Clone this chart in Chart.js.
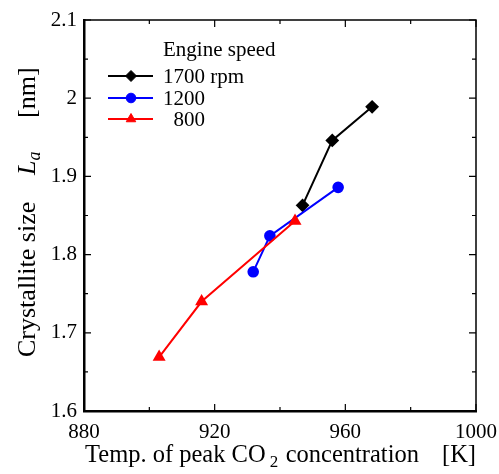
<!DOCTYPE html>
<html>
<head>
<meta charset="utf-8">
<script src="https://cdn.jsdelivr.net/npm/chart.js@4.4.0/dist/chart.umd.min.js"></script>
<style>
  body { margin: 0; background: #fff; }
</style>
</head>
<body>
<canvas id="chart" width="499" height="474"></canvas>
<script>
// data
const seriesNames = ['1700 rpm', '1200', '  800'];
const temp1700 = [946.9, 956.0, 968.2];
const size1700 = [1.863, 1.946, 1.989];
const temp1200 = [931.8, 936.9, 957.8];
const size1200 = [1.778, 1.824, 1.886];
const temp800 = [903.0, 916.0, 944.6];
const size800 = [1.669, 1.740, 1.843];

const FONT = '"Liberation Serif", "Times New Roman", serif';

function toPoints(xs, ys) {
    return xs.map((x, i) => ({ x: x, y: ys[i] }));
}

// ticks inside the box, frame, axis titles and legend
const decorations = {
    id: 'decorations',
    afterDraw(chart) {
        const ctx = chart.ctx;
        const a = chart.chartArea;
        const xs = chart.scales.x;
        const ys = chart.scales.y;
        ctx.save();
        ctx.strokeStyle = '#000';

        // top and right frame lines
        ctx.lineWidth = 1.5;
        ctx.beginPath();
        ctx.moveTo(a.left, a.top);
        ctx.lineTo(a.right, a.top);
        ctx.lineTo(a.right, a.bottom);
        ctx.stroke();

        // x ticks (bottom and top)
        ctx.lineWidth = 1.2;
        xs.ticks.forEach(t => {
            const px = xs.getPixelForValue(t.value);
            const major = Math.round(t.value) % 40 === 0;
            const len = major ? 7 : 4;
            ctx.beginPath();
            ctx.moveTo(px, a.bottom);
            ctx.lineTo(px, a.bottom - len);
            ctx.moveTo(px, a.top);
            ctx.lineTo(px, a.top + len);
            ctx.stroke();
        });
        // y ticks (left and right)
        ys.ticks.forEach(t => {
            const py = ys.getPixelForValue(t.value);
            const major = Math.round(t.value * 100) % 10 === 0;
            const len = major ? 7 : 4;
            ctx.beginPath();
            ctx.moveTo(a.left, py);
            ctx.lineTo(a.left + len, py);
            ctx.moveTo(a.right, py);
            ctx.lineTo(a.right - len, py);
            ctx.stroke();
        });

        ctx.fillStyle = '#000';
        ctx.textBaseline = 'alphabetic';
        ctx.textAlign = 'left';

        // x axis title with subscript
        const big = '24.5px ' + FONT;
        const sub = '17px ' + FONT;
        const base = 462;
        ctx.font = big;
        ctx.fillText('Temp. of peak CO', 85, base);
        const wt = ctx.measureText('Temp. of peak CO').width;
        ctx.font = sub;
        ctx.fillText('2', 85 + wt + 4, base + 5);
        ctx.font = big;
        ctx.fillText('concentration', 85 + wt + 20, base);
        const wk = ctx.measureText('[K]').width;
        ctx.fillText('[K]', a.right - wk, base);

        // y axis title, rotated
        const ybig = '26px ' + FONT;
        const yit = 'italic 26px ' + FONT;
        const yitSub = 'italic 18px ' + FONT;
        ctx.save();
        ctx.translate(35, 0);
        ctx.rotate(-Math.PI / 2);
        ctx.font = ybig;
        ctx.fillText('Crystallite size', -357, 0);
        ctx.font = yit;
        ctx.fillText('L', -175, 0);
        const wl = ctx.measureText('L').width;
        ctx.font = yitSub;
        ctx.fillText('a', -175 + wl, 5);
        ctx.font = ybig;
        ctx.fillText('[nm]', -118, 0);
        ctx.restore();

        // legend
        ctx.font = '21px ' + FONT;
        ctx.fillText('Engine speed', 163, 56);
        const rows = [76, 98, 119];
        chart.data.datasets.forEach((ds, i) => {
            const y = rows[i];
            ctx.strokeStyle = ds.borderColor;
            ctx.fillStyle = ds.backgroundColor;
            ctx.lineWidth = 2;
            ctx.beginPath();
            ctx.moveTo(108, y);
            ctx.lineTo(153, y);
            ctx.stroke();
            ctx.lineWidth = 1;
            Chart.helpers.drawPoint(ctx, {
                pointStyle: ds.pointStyle,
                radius: ds.pointRadius,
                borderWidth: 1,
                rotation: 0
            }, 131, y);
            ctx.fillStyle = '#000';
            ctx.fillText(ds.label, 163, y + 7);
        });
        ctx.restore();
    }
};

const ctx = document.getElementById('chart').getContext('2d');
new Chart(ctx, {
    type: 'line',
    data: {
        datasets: [
            {
                label: seriesNames[0],
                data: toPoints(temp1700, size1700),
                borderColor: '#000000',
                backgroundColor: '#000000',
                pointStyle: 'rectRot',
                pointRadius: 5.5,
                borderWidth: 2,
                order: 2
            },
            {
                label: seriesNames[1],
                data: toPoints(temp1200, size1200),
                borderColor: '#0000ff',
                backgroundColor: '#0000ff',
                pointStyle: 'circle',
                pointRadius: 4.8,
                borderWidth: 2,
                order: 1
            },
            {
                label: seriesNames[2],
                data: toPoints(temp800, size800),
                borderColor: '#ff0000',
                backgroundColor: '#ff0000',
                pointStyle: 'triangle',
                pointRadius: 5.5,
                borderWidth: 2,
                order: 0
            }
        ]
    },
    options: {
        responsive: false,
        animation: false,
        devicePixelRatio: 1,
        layout: {
            padding: { top: 20, right: 23, left: 0, bottom: 0 }
        },
        elements: {
            line: { tension: 0 },
            point: { borderWidth: 1 }
        },
        scales: {
            x: {
                type: 'linear',
                min: 880,
                max: 1000,
                afterFit: s => {
                    s.height = 63;
                    s.paddingLeft = 0;
                    s.paddingRight = 0;
                },
                ticks: {
                    stepSize: 20,
                    autoSkip: false,
                    maxRotation: 0,
                    padding: 9,
                    color: '#000',
                    font: { family: FONT, size: 21 },
                    callback: v => (Math.round(v) % 40 === 0 ? String(v) : '')
                },
                grid: { display: false, drawTicks: false },
                border: { display: true, color: '#000', width: 2.5 }
            },
            y: {
                min: 1.6,
                max: 2.1,
                afterFit: s => {
                    s.width = 84;
                    s.paddingTop = 0;
                    s.paddingBottom = 0;
                },
                ticks: {
                    stepSize: 0.05,
                    autoSkip: false,
                    padding: 7,
                    color: '#000',
                    font: { family: FONT, size: 21 },
                    callback: v => (Math.round(v * 100) % 10 === 0 ? String(Math.round(v * 10) / 10) : '')
                },
                grid: { display: false, drawTicks: false },
                border: { display: true, color: '#000', width: 2.5 }
            }
        },
        plugins: {
            legend: { display: false },
            tooltip: { enabled: false }
        }
    },
    plugins: [decorations]
});
</script>
</body>
</html>
